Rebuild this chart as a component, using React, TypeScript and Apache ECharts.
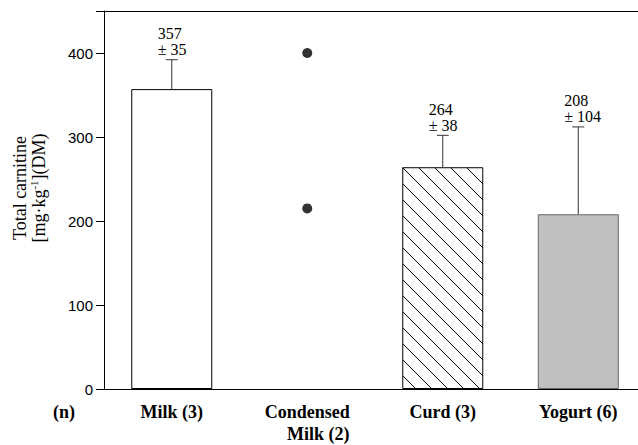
import React, { useEffect, useRef } from "react";
import * as echarts from "echarts";

const categories = ["Milk (3)", "Condensed\nMilk (2)", "Curd (3)", "Yogurt (6)"];
const means = [357, null, 264, 208];
const sds = [35, null, 38, 104];
const annotations = ["357\n± 35", "", "264\n± 38", "208\n± 104"];
const condensedPoints = [400, 215];
const yTicks = [0, 100, 200, 300, 400];
const hatchedIndex = 2;

const SERIF = '"Liberation Serif", "Times New Roman", serif';
const SANS = '"Liberation Sans", Arial, sans-serif';

export default function App() {
  const ref = useRef<HTMLDivElement>(null);
  useEffect(() => {
    if (!ref.current) return;
    const chart = echarts.init(ref.current, null, { renderer: "svg" });
    const BAR_W = 81;
    const barStyles = [
      { color: "#ffffff", borderColor: "#000", borderWidth: 1 },
      null,
      { color: "#ffffff", borderColor: "#000", borderWidth: 1 },
      { color: "#c0c0c0", borderColor: "#666", borderWidth: 1 },
    ];
    const barData = means.map((v, i) =>
      v == null ? "-" : { value: v, itemStyle: barStyles[i] }
    );
    const errData = means
      .map((v, i) => (v == null ? null : [i, v, sds[i] as number]))
      .filter((d) => d != null);
    chart.setOption({
      animation: false,
      grid: {
        left: 104,
        top: 11,
        right: 14,
        bottom: 55,
        show: false,
      },
      xAxis: {
        type: "category",
        data: categories,
        axisLine: { lineStyle: { color: "#000", width: 1 } },
        axisTick: { show: false },
        axisLabel: {
          interval: 0,
          margin: 12,
          color: "#000",
          fontFamily: SERIF,
          fontWeight: "bold",
          fontSize: 18,
          lineHeight: 22,
          formatter: (val: string) => {
            if (val.indexOf("\n") >= 0) {
              const [a, b] = val.split("\n");
              return "{a|" + a + "}\n{b|" + b + "}";
            }
            return val;
          },
          rich: {
            a: { fontFamily: SERIF, fontWeight: "bold", fontSize: 18, color: "#000", lineHeight: 22 },
            b: {
              fontFamily: SERIF,
              fontWeight: "bold",
              fontSize: 18,
              color: "#000",
              lineHeight: 22,
              padding: [0, 0, 0, 22],
            },
          },
        },
      },
      yAxis: {
        type: "value",
        min: 0,
        max: 450,
        interval: 100,
        splitLine: { show: false },
        axisLine: { show: true, lineStyle: { color: "#000", width: 1 } },
        axisTick: { show: true, length: 8, lineStyle: { color: "#000" } },
        axisLabel: {
          margin: 11,
          color: "#000",
          fontFamily: SANS,
          fontSize: 15,
          formatter: (v: number) => (yTicks.indexOf(v) >= 0 ? String(v) : ""),
        },
      },
      graphic: [
        {
          type: "line",
          shape: { x1: 104, y1: 11.5, x2: 660, y2: 11.5 },
          style: { stroke: "#000", lineWidth: 1 },
        },
        {
          type: "text",
          x: 20,
          y: 188,
          rotation: Math.PI / 2,
          style: {
            text: "Total carnitine",
            font: "18px " + SERIF,
            fill: "#000",
            align: "center",
            verticalAlign: "middle",
          },
        },
        {
          type: "text",
          x: 38,
          y: 188,
          rotation: Math.PI / 2,
          style: {
            text: "{n|[mg·kg}{s|-1}{n|](DM)}",
            align: "center",
            verticalAlign: "middle",
            rich: {
              n: { font: "18px " + SERIF, fill: "#000", color: "#000", lineHeight: 20, verticalAlign: "bottom" },
              s: { font: "11px " + SERIF, fill: "#000", color: "#000", lineHeight: 20, verticalAlign: "top" },
            },
          },
        },
        {
          type: "text",
          x: 64,
          y: 412,
          style: {
            text: "(n)",
            font: "bold 18px " + SERIF,
            fill: "#000",
            align: "center",
            verticalAlign: "middle",
          },
        },
      ],
      series: [
        {
          type: "bar",
          data: barData,
          barWidth: BAR_W,
          z: 2,
        },
        {
          type: "custom",
          data: errData,
          z: 3,
          renderItem: (params: any, api: any) => {
            const idx = api.value(0);
            const v = api.value(1);
            const e = api.value(2);
            const p0 = api.coord([idx, v]);
            const p1 = api.coord([idx, v + e]);
            const pb = api.coord([idx, 0]);
            const half = 6;
            const children: any[] = [];
            if (idx === hatchedIndex) {
              const x0 = p0[0] - BAR_W / 2 + 0.5;
              const x1 = p0[0] + BAR_W / 2 - 0.5;
              const y0 = p0[1] + 0.5;
              const y1 = pb[1] - 0.5;
              const step = 16;
              // lines y = x + k (falling to the right)
              for (let k = y0 - x1; k <= y1 - x0; k += step) {
                const xa = Math.max(x0, y0 - k);
                const xb = Math.min(x1, y1 - k);
                if (xb > xa) {
                  children.push({
                    type: "line",
                    shape: { x1: xa, y1: xa + k, x2: xb, y2: xb + k },
                    style: { stroke: "#000", lineWidth: 1 },
                  });
                }
              }
            }
            children.push(
              {
                type: "line",
                shape: { x1: p0[0], y1: p0[1], x2: p1[0], y2: p1[1] },
                style: { stroke: "#333", lineWidth: 1 },
              },
              {
                type: "line",
                shape: { x1: p1[0] - half, y1: p1[1], x2: p1[0] + half, y2: p1[1] },
                style: { stroke: "#333", lineWidth: 1 },
              },
              {
                type: "text",
                x: p1[0] - 14,
                y: p1[1] - 2,
                style: {
                  text: annotations[idx],
                  font: "16px " + SERIF,
                  fill: "#000",
                  align: "left",
                  verticalAlign: "bottom",
                  lineHeight: 16,
                },
              }
            );
            return { type: "group", children };
          },
        },
        {
          type: "scatter",
          data: condensedPoints.map((v) => [1, v]),
          symbol: "circle",
          symbolSize: 10,
          itemStyle: { color: "#000" },
          z: 4,
        },
      ],
    });
    return () => chart.dispose();
  }, []);
  return (
    <div
      style={{
        position: "fixed",
        left: 0,
        top: 0,
        width: 638,
        height: 445,
        overflow: "hidden",
        background: "#fff",
      }}
    >
      <div ref={ref} style={{ width: 660, height: 445 }} />
    </div>
  );
}
